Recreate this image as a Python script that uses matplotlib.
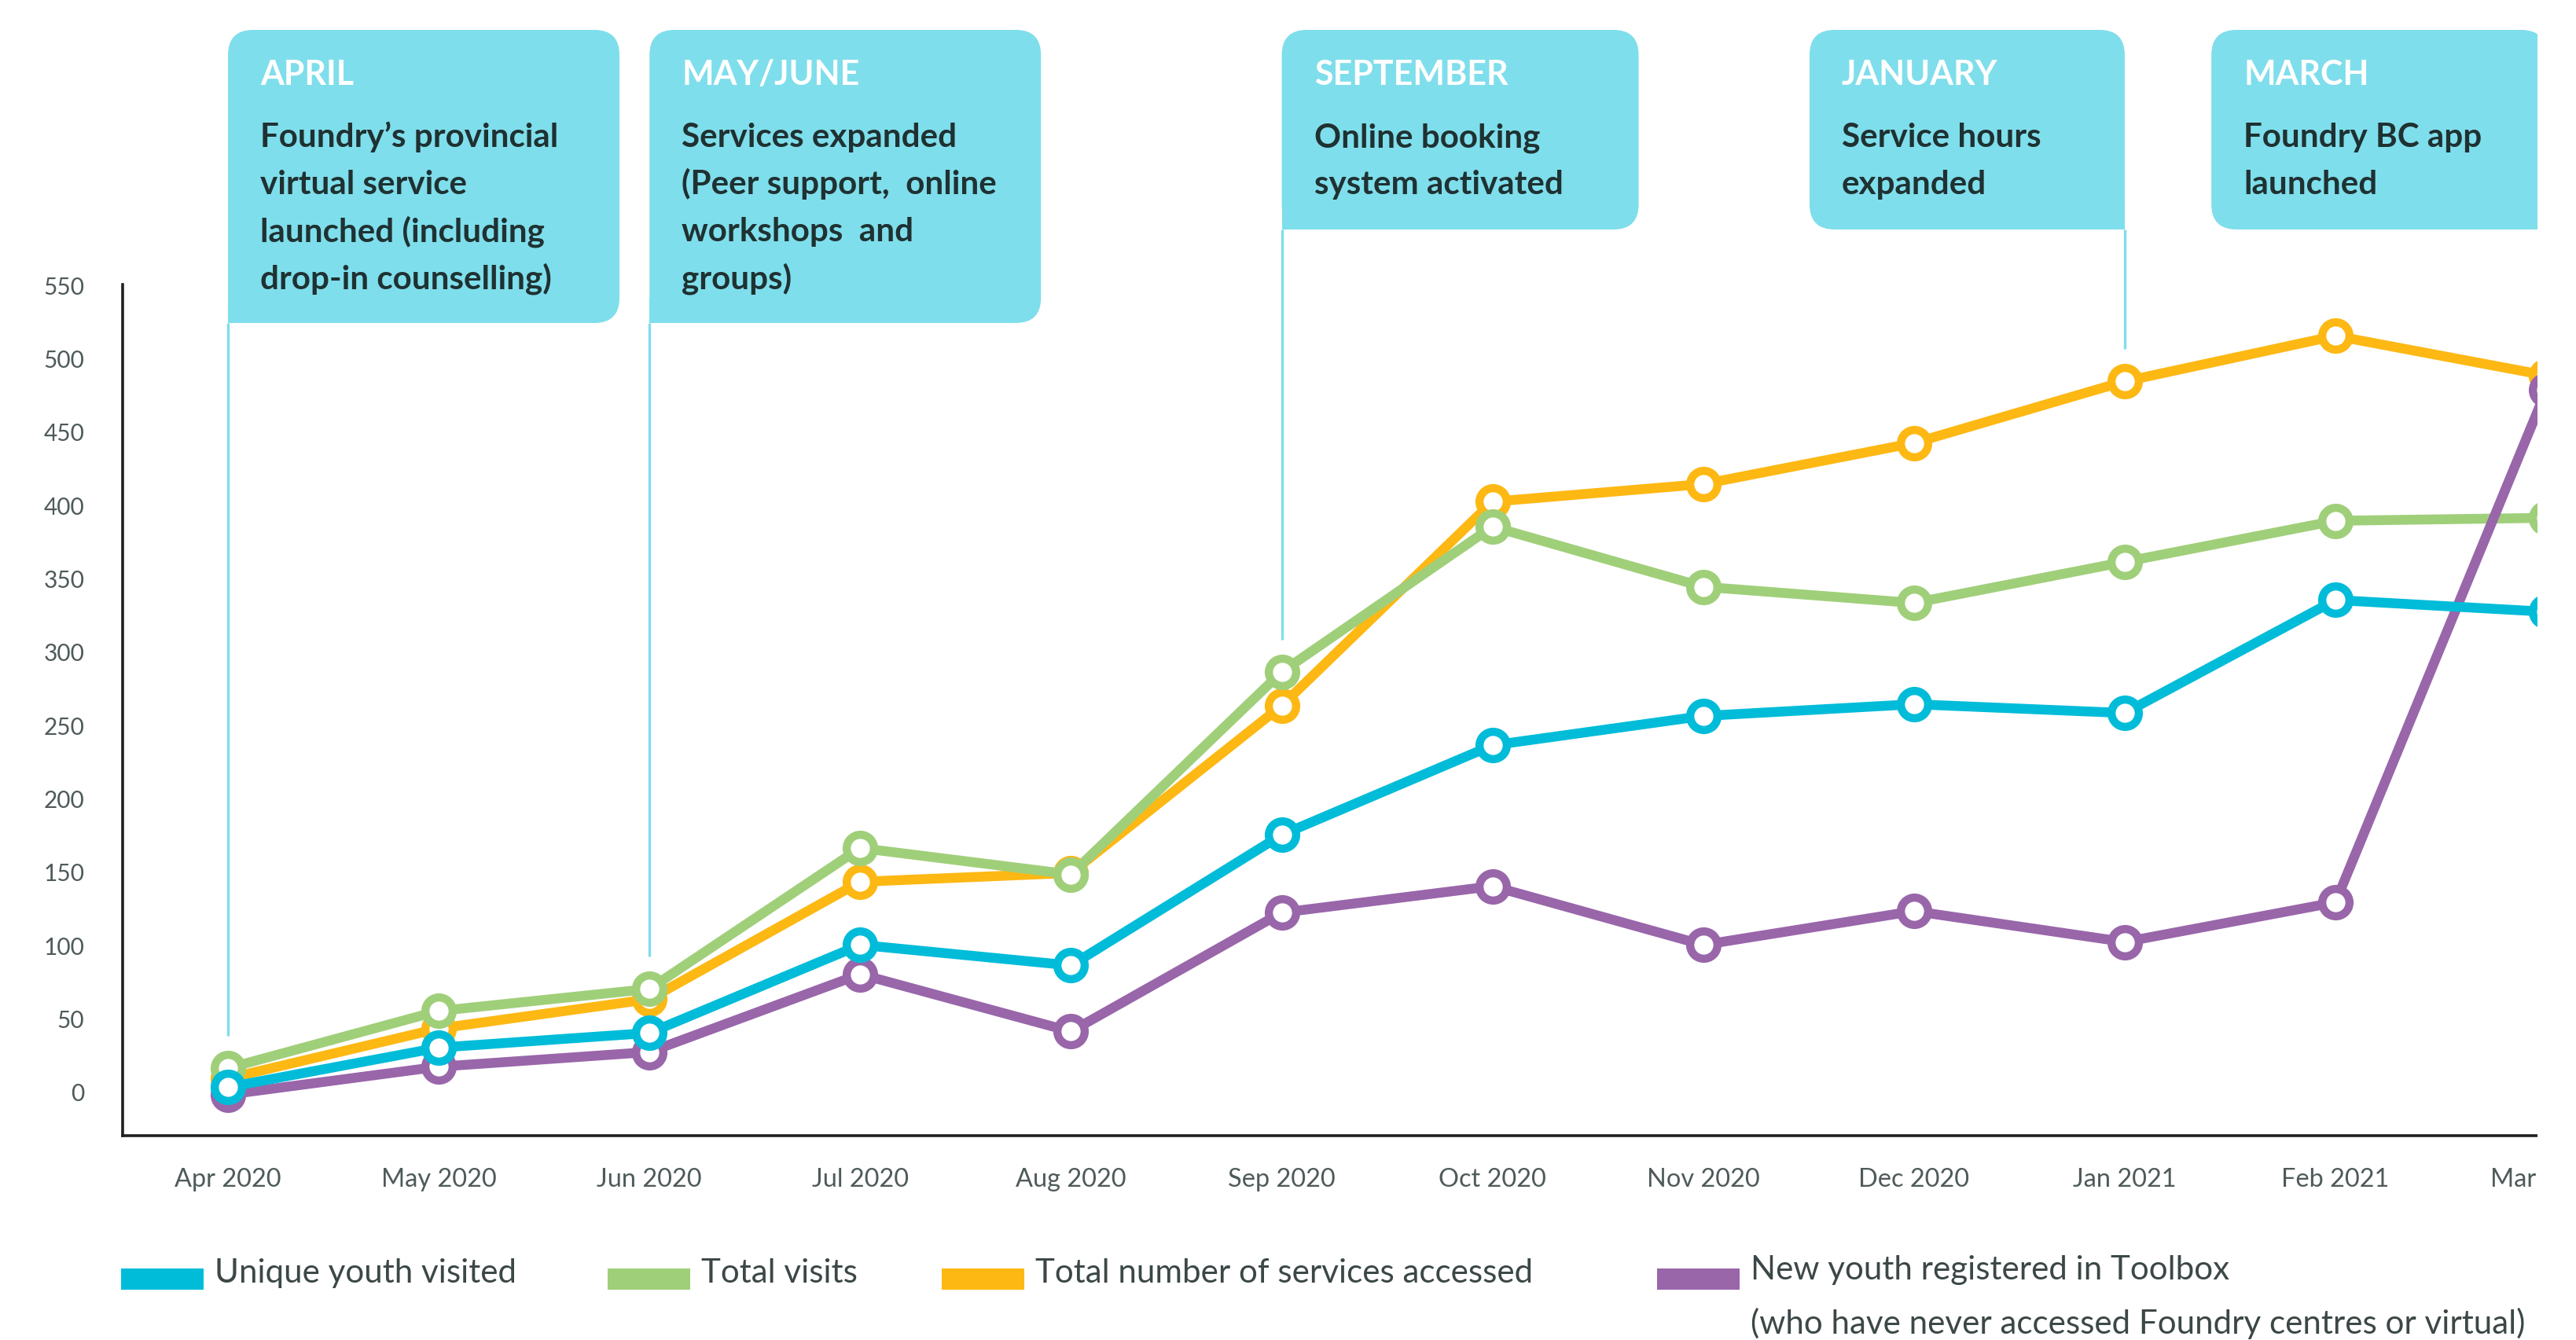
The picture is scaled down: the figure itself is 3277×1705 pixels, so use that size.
import matplotlib
matplotlib.use('Agg')
import matplotlib.pyplot as plt
from matplotlib.patches import FancyBboxPatch, Rectangle
from matplotlib.transforms import ScaledTranslation

# ---------------- data ----------------
months = ['Apr 2020', 'May 2020', 'Jun 2020', 'Jul 2020', 'Aug 2020', 'Sep 2020',
          'Oct 2020', 'Nov 2020', 'Dec 2020', 'Jan 2021', 'Feb 2021', 'Mar 2021']
unique_youth = [3, 30, 40, 100, 86, 175, 236, 256, 264, 258, 335, 327]
total_visits = [16, 55, 70, 166, 148, 286, 385, 344, 333, 361, 389, 391]
services_accessed = [9, 43, 63, 143, 149, 263, 402, 414, 442, 484, 515, 488]
new_youth_toolbox = [-2, 17, 27, 80, 41, 122, 140, 100, 123, 102, 129, 478]
y_ticks = [0, 50, 100, 150, 200, 250, 300, 350, 400, 450, 500, 550]

series_names = ['Unique youth visited', 'Total visits', 'Total number of services accessed',
                'New youth registered in Toolbox']
legend_note = '(who have never accessed Foundry centres or virtual)'

event_titles = ['APRIL', 'MAY/JUNE', 'SEPTEMBER', 'JANUARY', 'MARCH']
event_texts = [["Foundry\u2019s provincial", 'virtual service', 'launched (including', 'drop-in counselling)'],
               ['Services expanded', '(Peer support,  online', 'workshops  and', 'groups)'],
               ['Online booking', 'system activated'],
               ['Service hours', 'expanded'],
               ['Foundry BC app', 'launched']]
event_month = [0, 2, 5, 9, 11]

# ---------------- style ----------------
W, H = 3277, 1706
C_BLUE = '#00BCD9'
C_GREEN = '#A0CF7A'
C_ORANGE = '#FDB813'
C_PURPLE = '#9966AA'
C_BOX = '#7FDEEB'
C_TICK = '#4f5a5a'
C_LEG = '#3c4747'
C_BODY = '#1f3132'
FAM = 'Lato'

plt.rcParams['font.family'] = [FAM, 'DejaVu Sans']

fig = plt.figure(figsize=(W / 100, H / 100), dpi=100)
renderer = fig.canvas.get_renderer()


def fitted(s, target, weight='normal'):
    t = fig.text(0, 0, s, fontsize=20, fontweight=weight, family=FAM)
    w = t.get_window_extent(renderer).width
    t.remove()
    return 20 * target / w


tick_fs = fitted('Apr 2020', 136)
ytick_fs = fitted('500', 52)
body_fs = fitted('Foundry\u2019s provincial', 379, 'bold')
head_fs = fitted('SEPTEMBER', 246, 'bold')
leg_fs = fitted('Total number of services accessed', 634)

# ---------------- main axes ----------------
ax_left, ax_right, ax_top, ax_bottom = 156, W, 363, 1446
ax = fig.add_axes([ax_left / W, (H - ax_bottom) / H, (ax_right - ax_left) / W, (ax_bottom - ax_top) / H])
ax.patch.set_alpha(0)
step = 268.1
ax.set_xlim(-0.5, -0.5 + (ax_right - ax_left) / step)
ax.set_ylim(-30, 550)

x = list(range(len(months)))
mk = dict(marker='o', markersize=25, markeredgewidth=7.5, markerfacecolor='white', linewidth=9,
          solid_joinstyle='round')
ax.plot(x, services_accessed, color=C_ORANGE, zorder=2, **mk)
ax.plot(x, total_visits, color=C_GREEN, zorder=3, **mk)
ax.plot(x, new_youth_toolbox, color=C_PURPLE, zorder=4, **mk)
ax.plot(x, unique_youth, color=C_BLUE, zorder=5, **mk)

ax.set_xticks(x)
ax.set_xticklabels(months, fontsize=tick_fs, color=C_TICK)
for lab in ax.get_xticklabels():
    lab.set_transform(lab.get_transform() + ScaledTranslation(-8 / 100, 0, fig.dpi_scale_trans))
ax.set_yticks(y_ticks)
ax.set_yticklabels([str(v) for v in y_ticks], fontsize=ytick_fs, color=C_TICK)
ax.tick_params(axis='x', length=0, pad=29)
ax.tick_params(axis='y', length=0, pad=35)
for s in ['top', 'right']:
    ax.spines[s].set_visible(False)
for s in ['left', 'bottom']:
    ax.spines[s].set_color('#231f20')
    ax.spines[s].set_linewidth(2.6)

# ---------------- overlay (pixel coordinates) ----------------
ov = fig.add_axes([0, 0, 1, 1], zorder=10)
ov.set_xlim(0, W)
ov.set_ylim(H, 0)
ov.axis('off')
ov.patch.set_alpha(0)


def xpix(i):
    return ax.transData.transform((i, 0))[0]


def ydata(py):
    return ax.transData.inverted().transform((0, H - py))[1]


all_series = [unique_youth, total_visits, services_accessed, new_youth_toolbox]
box_top = 39
box_specs = [  # (width, bottom, anchor side)
    (498, 412, 'left'),
    (498, 412, 'left'),
    (454, 293, 'left'),
    (401, 293, 'right'),
    (426, 293, 'right'),
]
r = 32
for title, lines, mi, (bw, bb, side) in zip(event_titles, event_texts, event_month, box_specs):
    xp = xpix(mi)
    left = xp if side == 'left' else xp - bw
    ov.add_patch(FancyBboxPatch((left, box_top), bw, bb - box_top,
                                boxstyle=f'round,pad=0,rounding_size={r}',
                                facecolor=C_BOX, edgecolor='none', zorder=1))
    # square corner where connector leaves the box
    cx = left if side == 'left' else left + bw - r
    ov.add_patch(Rectangle((cx, bb - r), r, r, facecolor=C_BOX, edgecolor='none', zorder=1))
    tx = left + 41
    ov.text(tx, 108, title, color='white', fontsize=head_fs, fontweight='bold', va='baseline', ha='left')
    for k, ln in enumerate(lines):
        ov.text(tx, 187 + 60 * k, ln, color=C_BODY, fontsize=body_fs, fontweight='bold',
                va='baseline', ha='left')
    # connector line from box down to just above the highest point of that month
    if mi < len(months) - 1:
        top_val = max(sr[mi] for sr in all_series) + 22
        ax.plot([mi, mi], [top_val, ydata(bb)], color=C_BOX, linewidth=2.4, zorder=1,
                clip_on=False, solid_capstyle='butt')

# ---------------- legend ----------------
leg_patch_x = [154, 773, 1198, 2108]
leg_cols = [C_BLUE, C_GREEN, C_ORANGE, C_PURPLE]
for px, col, name in zip(leg_patch_x, leg_cols, series_names):
    ov.add_patch(Rectangle((px, 1615), 105, 27, facecolor=col, edgecolor='none'))
    by = 1628 if col == C_PURPLE else 1632
    ov.text(px + 119, by, name, color=C_LEG, fontsize=leg_fs, va='baseline', ha='left')
ov.text(2108 + 119, 1697, legend_note, color=C_LEG, fontsize=leg_fs, va='baseline', ha='left')

# right-hand crop of the original picture
ov.add_patch(Rectangle((3228, 0), W - 3228 + 5, H, facecolor='white', edgecolor='none', zorder=100))

fig.savefig('out.png', dpi=100, facecolor='white')
